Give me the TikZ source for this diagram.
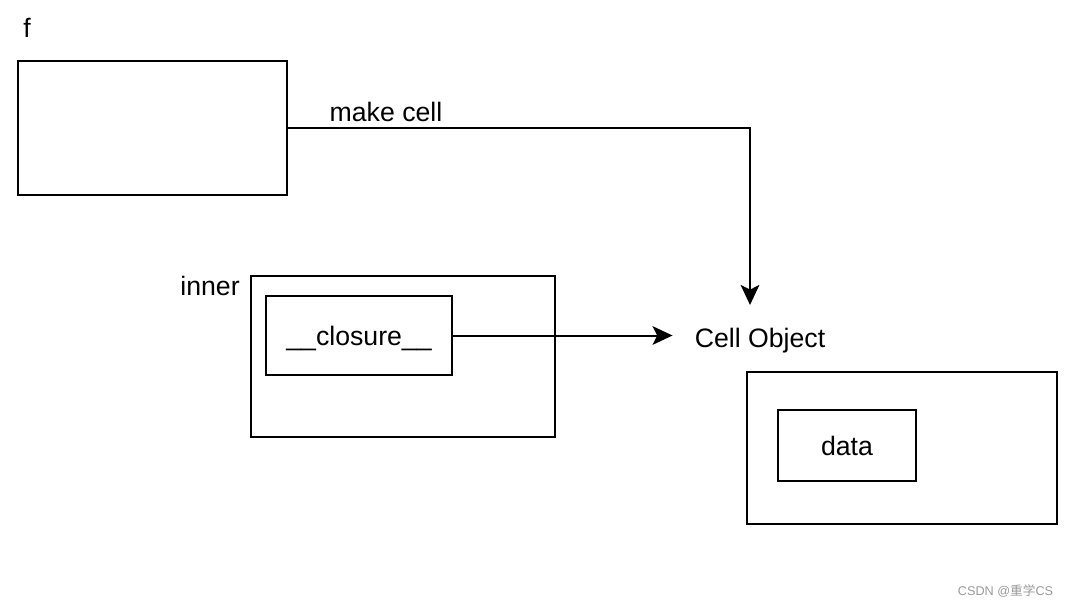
\documentclass[tikz,border=0pt]{standalone}
\usepackage{fontspec}
\setmainfont{Liberation Sans}
\newfontfamily\cjkfont{Noto Sans CJK SC}
\usetikzlibrary{arrows.meta,positioning}

\begin{document}
\begin{tikzpicture}[x=0.75pt, y=-0.75pt,
    box/.style={draw=black, line width=1.9pt, rectangle, inner sep=0pt},
    lbl/.style={inner sep=0pt, font=\fontsize{20pt}{24pt}\selectfont},
    link/.style={draw=black, line width=1.5pt},
    tip/.style={-{Stealth[length=15pt, width=14pt, inset=3.5pt]}}]
    \definecolor{mark_grey}{HTML}{9a9a9a}
    %\draw[help lines] (0,0) grid (1069,607);
    \useasboundingbox (0,0) rectangle (1069,607);

    % the function f
    \node[box, minimum width=201.75pt, minimum height=100.5pt] (fbox) at (152.5,128) {};
    \node[lbl] (fname) at (27,28) {f};

    % inner with its closure
    \node[box, minimum width=228pt, minimum height=120.75pt] (inner) at (403,356.5) {};
    \node[lbl] (innername) at (210,286) {inner};
    \node[box, lbl, minimum width=139.5pt, minimum height=59.25pt] (closure) at (359,335.5)
        {\raisebox{-2.5pt}[\height][\depth]{\_\_closure\_\_}};

    % the cell
    \node[lbl, inner xsep=16.5pt, inner ysep=17.5pt] (cellobj) at (760,341) {Cell Object};
    \node[box, minimum width=232.5pt, minimum height=114pt] (cellbox) at (902,448) {};
    \node[box, lbl, minimum width=103.5pt, minimum height=53.25pt] (data) at (847,445.5) {data};

    \draw[link, tip] (fbox.east) -| ([xshift=-7.5pt]cellobj.north);
    \node[lbl] (makecell) at (386,112) {make cell};
    \draw[link, tip] (closure.east) -- (closure.east -| cellobj.west);

    \node[inner sep=0pt, text=mark_grey, font=\fontsize{9.5pt}{11pt}\selectfont] (mark) at (1005.5,591) {CSDN @{\cjkfont 重学}CS};
\end{tikzpicture}
\end{document}
